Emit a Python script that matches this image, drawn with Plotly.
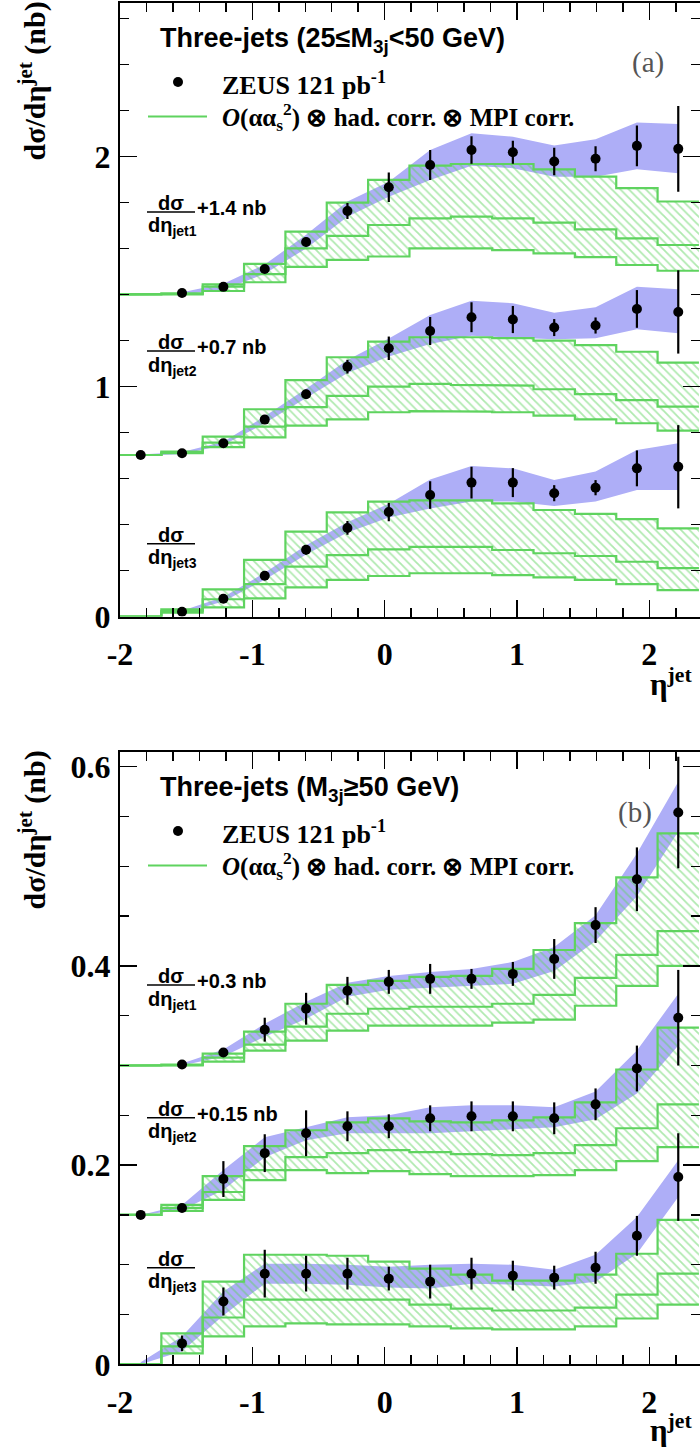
import plotly.graph_objects as go

W, H = 700, 1447

# ---------------- data ----------------
ETA_EDGES = [-2.0, -1.6875, -1.375, -1.0625, -0.75, -0.4375, -0.125, 0.1875,
             0.5, 0.8125, 1.125, 1.4375, 1.75, 2.0625, 2.375]
ETA_CENTERS = [-1.84375, -1.53125, -1.21875, -0.90625, -0.59375, -0.28125, 0.03125,
               0.34375, 0.65625, 0.96875, 1.28125, 1.59375, 1.90625, 2.21875]
X_TICKS = [-2, -1, 0, 1, 2]
X_TICK_LABELS = ["-2", "-1", "0", "1", "2"]

# panel (a): 25 <= M3j < 50 GeV
A_OFFSETS = [1.4, 0.7, 0.0]
A_DATA = [
    [None, 0.006, 0.033, 0.111, 0.228, 0.363, 0.466, 0.563, 0.628, 0.618, 0.578, 0.590, 0.646, 0.633],
    [0.002, 0.010, 0.053, 0.156, 0.266, 0.386, 0.466, 0.541, 0.601, 0.591, 0.556, 0.565, 0.637, 0.624],
    [None, 0.021, 0.077, 0.177, 0.290, 0.385, 0.454, 0.528, 0.582, 0.582, 0.536, 0.560, 0.644, 0.651],
]
A_ERR = [
    [None, 0.004, 0.006, 0.012, 0.020, 0.035, 0.064, 0.065, 0.060, 0.050, 0.060, 0.054, 0.089, 0.186],
    [0.002, 0.003, 0.006, 0.010, 0.020, 0.030, 0.051, 0.061, 0.065, 0.059, 0.037, 0.035, 0.082, 0.181],
    [None, 0.004, 0.006, 0.010, 0.020, 0.030, 0.040, 0.060, 0.069, 0.063, 0.035, 0.033, 0.078, 0.181],
]
A_BAND_LO = [
    [None, 0.000, 0.020, 0.090, 0.200, 0.338, 0.425, 0.498, 0.560, 0.549, 0.512, 0.512, 0.544, 0.527],
    [0.000, 0.005, 0.045, 0.140, 0.250, 0.359, 0.430, 0.485, 0.520, 0.514, 0.505, 0.510, 0.549, 0.531],
    [None, 0.015, 0.065, 0.160, 0.270, 0.365, 0.430, 0.470, 0.500, 0.500, 0.480, 0.500, 0.550, 0.550],
]
A_BAND_HI = [
    [None, 0.010, 0.047, 0.130, 0.260, 0.404, 0.490, 0.628, 0.701, 0.686, 0.647, 0.675, 0.747, 0.741],
    [0.004, 0.015, 0.060, 0.170, 0.290, 0.415, 0.509, 0.611, 0.673, 0.662, 0.621, 0.644, 0.734, 0.723],
    [None, 0.025, 0.085, 0.190, 0.310, 0.410, 0.490, 0.596, 0.654, 0.644, 0.593, 0.630, 0.724, 0.753],
]
A_TH_UP = [
    [0.0, 0.005, 0.044, 0.133, 0.273, 0.399, 0.498, 0.560, 0.567, 0.567, 0.544, 0.512, 0.462, 0.404],
    [0.002, 0.017, 0.082, 0.201, 0.328, 0.427, 0.495, 0.514, 0.514, 0.510, 0.499, 0.480, 0.451, 0.404],
    [0.0, 0.031, 0.118, 0.246, 0.369, 0.453, 0.499, 0.505, 0.505, 0.492, 0.463, 0.446, 0.423, 0.383],
]
A_TH_MID = [
    [0.0, 0.003, 0.034, 0.088, 0.200, 0.255, 0.302, 0.331, 0.338, 0.331, 0.312, 0.283, 0.244, 0.215],
    [0.002, 0.013, 0.056, 0.125, 0.210, 0.259, 0.299, 0.311, 0.307, 0.304, 0.288, 0.267, 0.241, 0.212],
    [0.0, 0.024, 0.075, 0.141, 0.217, 0.267, 0.292, 0.303, 0.303, 0.289, 0.275, 0.263, 0.238, 0.210],
]
A_TH_LO = [
    [0.0, 0.000, 0.015, 0.053, 0.120, 0.150, 0.165, 0.200, 0.200, 0.193, 0.179, 0.162, 0.128, 0.103],
    [0.002, 0.010, 0.036, 0.079, 0.130, 0.157, 0.188, 0.193, 0.191, 0.188, 0.173, 0.157, 0.140, 0.108],
    [0.0, 0.017, 0.040, 0.079, 0.127, 0.159, 0.176, 0.188, 0.188, 0.180, 0.170, 0.159, 0.141, 0.115],
]

# panel (b): M3j >= 50 GeV
B_OFFSETS = [0.3, 0.15, 0.0]
B_DATA = [
    [None, 0.001, 0.013, 0.036, 0.057, 0.075, 0.084, 0.087, 0.087, 0.092, 0.107, 0.141, 0.187, 0.254],
    [0.000, 0.007, 0.036, 0.062, 0.082, 0.089, 0.089, 0.097, 0.099, 0.099, 0.097, 0.111, 0.147, 0.198],
    [None, 0.021, 0.063, 0.091, 0.091, 0.091, 0.086, 0.083, 0.091, 0.089, 0.087, 0.097, 0.129, 0.188],
]
B_ERR = [
    [None, 0.002, 0.004, 0.012, 0.016, 0.014, 0.012, 0.015, 0.010, 0.012, 0.020, 0.018, 0.032, 0.056],
    [0.001, 0.003, 0.018, 0.019, 0.023, 0.015, 0.012, 0.013, 0.015, 0.015, 0.016, 0.016, 0.023, 0.048],
    [None, 0.008, 0.014, 0.024, 0.018, 0.016, 0.012, 0.017, 0.016, 0.015, 0.012, 0.016, 0.020, 0.044],
]
B_BAND_LO = [
    [None, 0.000, 0.009, 0.029, 0.047, 0.069, 0.076, 0.078, 0.080, 0.082, 0.095, 0.125, 0.170, 0.235],
    [0.000, 0.005, 0.025, 0.058, 0.075, 0.082, 0.082, 0.082, 0.084, 0.086, 0.088, 0.096, 0.122, 0.170],
    [0.000, 0.013, 0.049, 0.081, 0.081, 0.080, 0.077, 0.076, 0.081, 0.080, 0.078, 0.083, 0.111, 0.168],
]
B_BAND_HI = [
    [None, 0.002, 0.016, 0.042, 0.064, 0.083, 0.090, 0.094, 0.097, 0.104, 0.119, 0.151, 0.213, 0.285],
    [0.000, 0.010, 0.045, 0.078, 0.088, 0.098, 0.100, 0.108, 0.110, 0.110, 0.108, 0.124, 0.165, 0.222],
    [0.002, 0.028, 0.073, 0.101, 0.101, 0.100, 0.098, 0.100, 0.101, 0.100, 0.095, 0.110, 0.148, 0.205],
]
B_TH_UP = [
    [0.0, 0.001, 0.012, 0.034, 0.062, 0.081, 0.085, 0.089, 0.090, 0.097, 0.116, 0.143, 0.189, 0.233],
    [0.0, 0.010, 0.039, 0.069, 0.085, 0.093, 0.097, 0.094, 0.093, 0.095, 0.098, 0.113, 0.146, 0.188],
    [0.0, 0.031, 0.083, 0.110, 0.110, 0.109, 0.103, 0.096, 0.090, 0.084, 0.084, 0.090, 0.111, 0.145],
]
B_TH_MID = [
    [0.0, 0.0005, 0.008, 0.021, 0.039, 0.052, 0.057, 0.059, 0.059, 0.062, 0.071, 0.088, 0.111, 0.135],
    [0.0, 0.007, 0.023, 0.045, 0.058, 0.062, 0.065, 0.063, 0.061, 0.060, 0.062, 0.070, 0.087, 0.111],
    [0.0, 0.018, 0.047, 0.065, 0.065, 0.065, 0.065, 0.060, 0.056, 0.054, 0.054, 0.057, 0.070, 0.091],
]
B_TH_LO = [
    [0.0, 0.0, 0.004, 0.015, 0.025, 0.035, 0.040, 0.040, 0.040, 0.043, 0.046, 0.060, 0.080, 0.100],
    [0.0, 0.004, 0.015, 0.035, 0.045, 0.042, 0.044, 0.041, 0.039, 0.039, 0.040, 0.045, 0.054, 0.068],
    [0.0, 0.011, 0.028, 0.038, 0.041, 0.040, 0.040, 0.038, 0.036, 0.035, 0.035, 0.038, 0.046, 0.060],
]

A_Y_TICKS = [0, 1, 2]
A_Y_TICK_LABELS = ["0", "1", "2"]
B_Y_TICKS = [0, 0.2, 0.4, 0.6]
B_Y_TICK_LABELS = ["0", "0.2", "0.4", "0.6"]

# ---------------- style ----------------
GREEN = "#5fd35f"
BLUE = "#aeaef7"
SERIF = "Liberation Serif"
SANS = "Liberation Sans"

# layout in pixels
PLOT_L = 120
A_TOP, A_BOT = 3, 616.5
B_TOP, B_BOT = 752, 1364.3
A_YMAX = 2.667
B_YMAX = 0.6148
X_MAX = 2.383


def px(x):
    return x / W


def py(y):
    return 1 - y / H


def step(edges, vals, off):
    xs, ys = [], []
    for i, v in enumerate(vals):
        xs += [edges[i], edges[i + 1]]
        ys += [v + off, v + off]
    return xs, ys


fig = go.Figure()


def add_panel(xa, ya, offsets, data, err, blo, bhi, up, mid, lo):
    for k in range(3):
        off = offsets[k]
        # blue band
        bx = [c for c, v in zip(ETA_CENTERS, blo[k]) if v is not None]
        bl = [v + off for v in blo[k] if v is not None]
        bh = [v + off for v in bhi[k] if v is not None]
        fig.add_trace(go.Scatter(x=bx, y=bl, mode="lines", line=dict(width=0, color=BLUE),
                                 xaxis=xa, yaxis=ya, showlegend=False, hoverinfo="skip"))
        fig.add_trace(go.Scatter(x=bx, y=bh, mode="lines", line=dict(width=0, color=BLUE),
                                 fill="tonexty", fillcolor=BLUE,
                                 xaxis=xa, yaxis=ya, showlegend=False, hoverinfo="skip"))
        # hatched theory band
        sx, sl = step(ETA_EDGES, lo[k], off)
        _, su = step(ETA_EDGES, up[k], off)
        _, sm = step(ETA_EDGES, mid[k], off)
        fig.add_trace(go.Scatter(x=sx, y=sl, mode="lines", line=dict(width=2.2, color=GREEN),
                                 xaxis=xa, yaxis=ya, showlegend=False, hoverinfo="skip"))
        fig.add_trace(go.Scatter(x=sx, y=su, mode="lines", line=dict(width=2.2, color=GREEN),
                                 fill="tonexty", fillcolor="rgba(0,0,0,0)",
                                 fillpattern=dict(shape="\\", fgcolor=GREEN, bgcolor="rgba(0,0,0,0)",
                                                  size=6, solidity=0.3),
                                 xaxis=xa, yaxis=ya, showlegend=False, hoverinfo="skip"))
        fig.add_trace(go.Scatter(x=sx, y=sm, mode="lines", line=dict(width=2.2, color=GREEN),
                                 xaxis=xa, yaxis=ya, showlegend=False, hoverinfo="skip"))
        # data points
        dx = [c for c, v in zip(ETA_CENTERS, data[k]) if v is not None]
        dy = [v + off for v in data[k] if v is not None]
        de = [e for e in err[k] if e is not None]
        fig.add_trace(go.Scatter(x=dx, y=dy, mode="markers",
                                 marker=dict(size=10, color="black"),
                                 error_y=dict(type="data", array=de, visible=True, color="black",
                                              thickness=2.2, width=0),
                                 xaxis=xa, yaxis=ya, showlegend=False, hoverinfo="skip"))


add_panel("x", "y", A_OFFSETS, A_DATA, A_ERR, A_BAND_LO, A_BAND_HI, A_TH_UP, A_TH_MID, A_TH_LO)
add_panel("x2", "y2", B_OFFSETS, B_DATA, B_ERR, B_BAND_LO, B_BAND_HI, B_TH_UP, B_TH_MID, B_TH_LO)

# dummy traces for right-side tick axes
fig.add_trace(go.Scatter(x=[0], y=[0], mode="markers", marker=dict(opacity=0), xaxis="x", yaxis="y3",
                         showlegend=False, hoverinfo="skip"))
fig.add_trace(go.Scatter(x=[0], y=[0], mode="markers", marker=dict(opacity=0), xaxis="x2", yaxis="y4",
                         showlegend=False, hoverinfo="skip"))

tickfont = dict(family=SERIF, size=32, color="black", weight="bold")


def xaxis_cfg(anchor):
    return dict(domain=[px(PLOT_L), 1], range=[-2, X_MAX], anchor=anchor,
                tickmode="array", tickvals=X_TICKS, ticktext=X_TICK_LABELS,
                ticks="inside", ticklen=17, tickwidth=1.5, tickcolor="black",
                showline=True, linewidth=2, linecolor="black", mirror="ticks",
                showgrid=False, zeroline=False, tickfont=tickfont, ticklabelstandoff=8,
                automargin=False,
                minor=dict(tickmode="linear", tick0=-2, dtick=0.2, ticks="inside",
                           ticklen=9, tickwidth=1.5, tickcolor="black", showgrid=False))


def yaxis_cfg(anchor, dom, rng, tv, tt, mdt):
    return dict(domain=dom, range=rng, anchor=anchor,
                tickmode="array", tickvals=tv, ticktext=tt,
                ticks="inside", ticklen=17, tickwidth=1.5, tickcolor="black",
                showline=True, linewidth=2, linecolor="black", mirror=False,
                showgrid=False, zeroline=False, tickfont=tickfont, ticklabelstandoff=1,
                automargin=False,
                minor=dict(tickmode="linear", tick0=0, dtick=mdt, ticks="inside",
                           ticklen=9, tickwidth=1.5, tickcolor="black", showgrid=False))


def yright_cfg(anchor, over, rng, tv, mdt):
    return dict(overlaying=over, side="right", anchor=anchor, range=rng,
                tickmode="array", tickvals=tv, showticklabels=False,
                ticks="inside", ticklen=17, tickwidth=1.5, tickcolor="black",
                showline=False, showgrid=False, zeroline=False, automargin=False,
                minor=dict(tickmode="linear", tick0=0, dtick=mdt, ticks="inside",
                           ticklen=9, tickwidth=1.5, tickcolor="black", showgrid=False))


dom_a = [py(A_BOT), py(A_TOP)]
dom_b = [py(B_BOT), py(B_TOP)]

fig.update_layout(
    width=W, height=H, margin=dict(l=0, r=0, t=0, b=0, autoexpand=False),
    paper_bgcolor="white", plot_bgcolor="rgba(0,0,0,0)",
    showlegend=False,
    xaxis=xaxis_cfg("y"),
    yaxis=yaxis_cfg("x", dom_a, [0, A_YMAX], A_Y_TICKS, A_Y_TICK_LABELS, 0.2),
    xaxis2=xaxis_cfg("y2"),
    yaxis2=yaxis_cfg("x2", dom_b, [0, B_YMAX], B_Y_TICKS, B_Y_TICK_LABELS, 0.05),
    yaxis3=yright_cfg("x", "y", [0, A_YMAX], A_Y_TICKS, 0.2),
    yaxis4=yright_cfg("x2", "y2", [0, B_YMAX], B_Y_TICKS, 0.05),
)

ann = []
shapes = []


def text(x, y, s, font, xanchor="left", yanchor="middle", angle=0):
    ann.append(dict(x=px(x), y=py(y), xref="paper", yref="paper", text=s, showarrow=False,
                    xanchor=xanchor, yanchor=yanchor, font=font, textangle=angle))


ser_b = dict(family=SERIF, size=25, color="black", weight="bold")
zeus_f = dict(family=SERIF, size=26, color="black", weight="bold")
sans_b = dict(family=SANS, size=27, color="black", weight="bold")
frac_f = dict(family=SANS, size=20, color="black", weight="bold")
ytitle_f = dict(family=SERIF, size=30, color="black", weight="bold")
xtitle_f = dict(family=SERIF, size=31, color="black", weight="bold")
lab_f = dict(family=SERIF, size=29, color="#555555")

panels = [
    dict(top=A_TOP, title="Three-jets (25≤M<sub>3j</sub>&lt;50 GeV)", tag="(a)", tagx=648, tagy=62,
         fr=[(212, "+1.4 nb", "jet1"), (351, "+0.7 nb", "jet2"), (543.7, "", "jet3")],
         xt=682),
    dict(top=B_TOP, title="Three-jets (M<sub>3j</sub>≥50 GeV)", tag="(b)", tagx=635, tagy=812,
         fr=[(985, "+0.3 nb", "jet1"), (1117.7, "+0.15 nb", "jet2"), (1267.7, "", "jet3")],
         xt=1428),
]
for p in panels:
    t = p["top"] - 3
    text(158, t + 40, p["title"], sans_b)
    text(220, t + 83, "ZEUS 121 pb<sup>-1</sup>", zeus_f)
    text(220, t + 117, "<i>O</i>(αα<sub>s</sub><sup>2</sup>) ⊗ had. corr. ⊗ MPI corr.", ser_b)
    shapes.append(dict(type="circle", xref="paper", yref="paper",
                       x0=px(173), x1=px(183), y0=py(t + 77), y1=py(t + 87),
                       fillcolor="black", line=dict(width=0)))
    shapes.append(dict(type="line", xref="paper", yref="paper",
                       x0=px(148), x1=px(207), y0=py(t + 116.5), y1=py(t + 116.5),
                       line=dict(color=GREEN, width=2.2)))
    text(p["tagx"], p["tagy"], p["tag"], lab_f, xanchor="center")
    for (ly, add, jet) in p["fr"]:
        shapes.append(dict(type="line", xref="paper", yref="paper",
                           x0=px(147), x1=px(195), y0=py(ly), y1=py(ly),
                           line=dict(color="black", width=1.5)))
        text(171, ly - 9, "dσ", frac_f, xanchor="center")
        text(146, ly + 15, "dη<sub>%s</sub>" % jet, frac_f)
        if add:
            text(195, ly - 4, add, frac_f)
    # axis titles
    text(33, p["top"] - 3, "dσ/dη<sup>jet</sup> (nb)", ytitle_f, xanchor="center", yanchor="top", angle=-90)
    text(694, p["xt"], "η<sup>jet</sup>", xtitle_f, xanchor="right")

fig.update_layout(annotations=ann, shapes=shapes)
fig.write_html("out.html", config={"displayModeBar": False, "staticPlot": True},
               post_script="document.body.style.margin='0';document.body.style.overflow='hidden';"
                           "document.documentElement.style.overflow='hidden';")
